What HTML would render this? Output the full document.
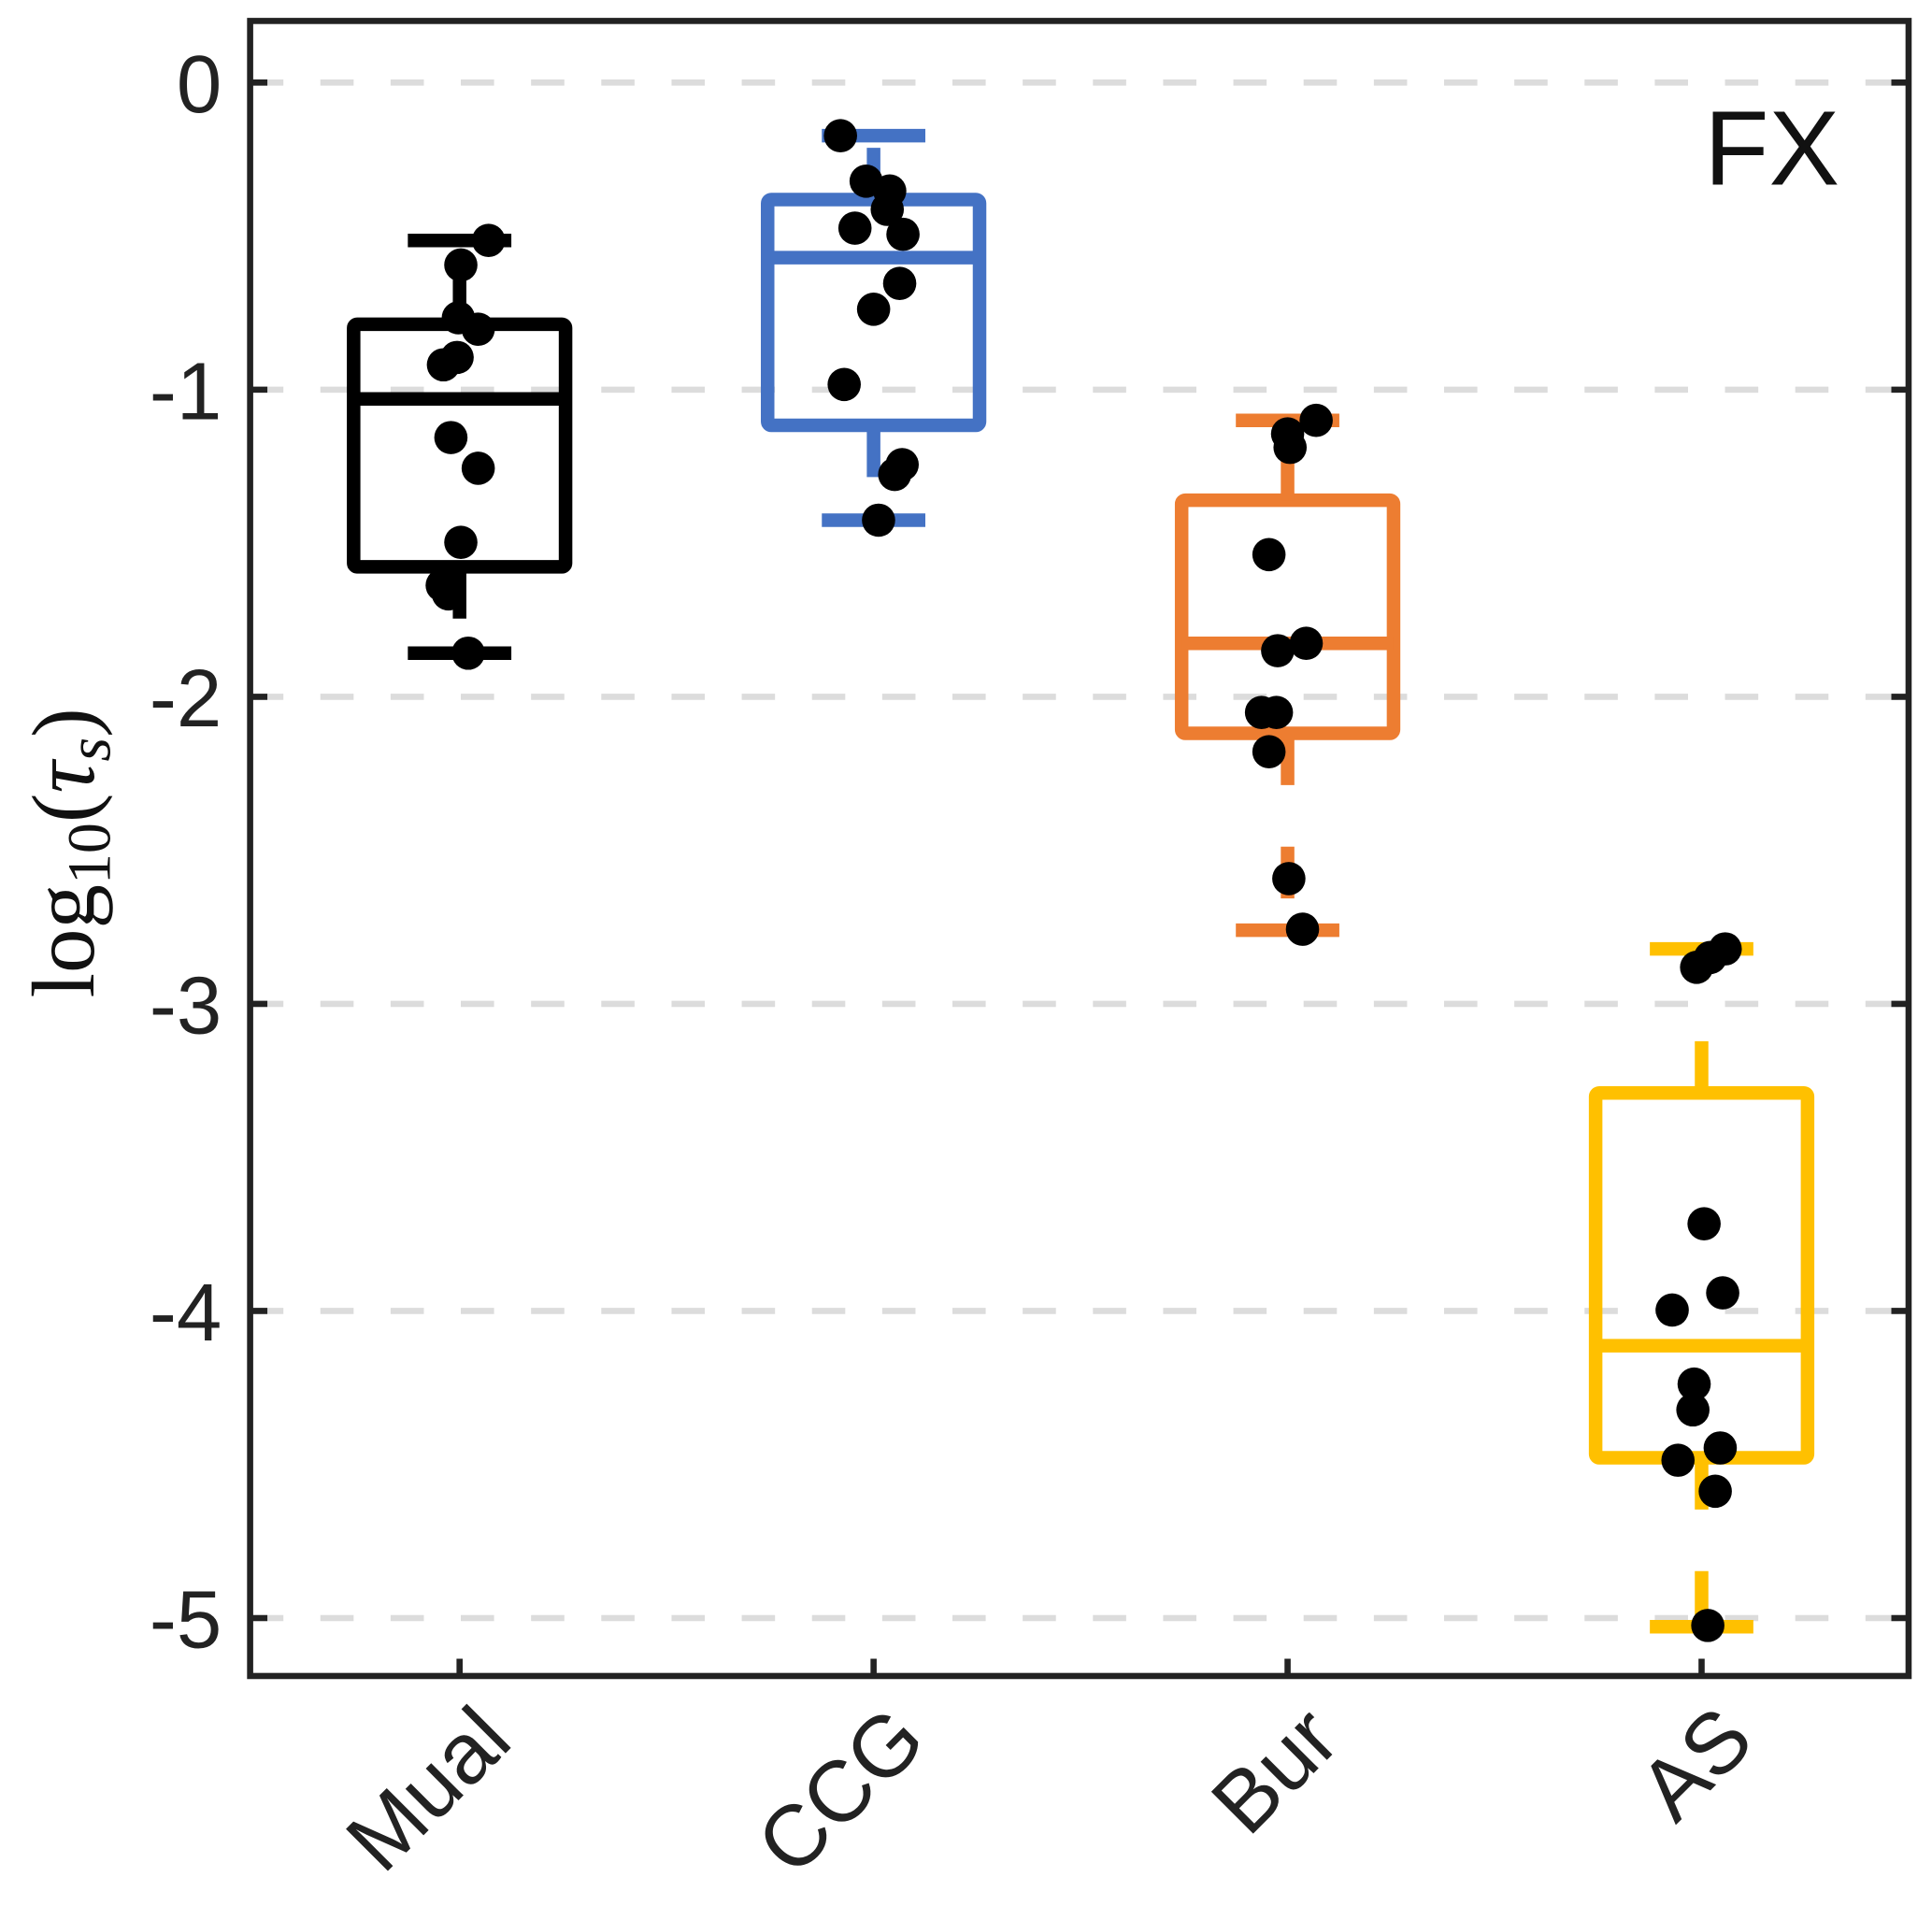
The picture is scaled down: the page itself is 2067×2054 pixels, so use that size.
<!DOCTYPE html>
<html><head><meta charset="utf-8"><style>
html,body{margin:0;padding:0;background:#fff;}
svg{display:block;}
</style></head><body>
<svg id="chart" width="2067" height="2054" viewBox="0 0 1568 1558" preserveAspectRatio="none" xmlns="http://www.w3.org/2000/svg" font-family="'Liberation Sans', sans-serif">
<g id="grid"></g>
<g id="boxes"></g>
<g id="dots"></g>
<rect x="203" y="17" width="1346" height="1343" fill="none" stroke="#222" stroke-width="5"/>
<g id="ticks"></g>
<text x="1438" y="150" font-size="86" text-anchor="middle" fill="#111">FX</text>
<text transform="translate(76,692) rotate(-90)" text-anchor="middle" font-family="'Liberation Serif', serif" font-size="72" fill="#111">log<tspan font-size="50" dy="13">10</tspan><tspan dy="-13">(</tspan><tspan font-style="italic">τ</tspan><tspan font-style="italic" font-size="50" dy="13">s</tspan><tspan dy="-13">)</tspan></text>
</svg>
<script>
const categories = ["Mual","CCG","Bur","AS"];
const colors = ["#000000","#4472C4","#ED7D31","#FFC000"];
const yTicks = [0,-1,-2,-3,-4,-5];
const q1 = [-1.577,-1.116,-2.119,-4.478];
const q3 = [-0.787,-0.381,-1.36,-3.29];
const medians = [-1.03,-0.57,-1.826,-4.113];
const whiskLo = [-1.858,-1.425,-2.76,-5.028];
const whiskHi = [-0.514,-0.173,-1.1,-2.821];
const ptsMual = [-0.514,-0.594,-0.766,-0.803,-0.895,-0.919,-1.156,-1.256,-1.497,-1.637,-1.665,-1.858];
const jitMual = [0.07,0.003,-0.003,0.045,-0.006,-0.039,-0.021,0.045,0.003,-0.042,-0.027,0.021];
const ptsCCG = [-0.173,-0.321,-0.353,-0.413,-0.474,-0.494,-0.654,-0.738,-0.983,-1.244,-1.276,-1.425];
const jitCCG = [-0.08,-0.018,0.039,0.033,-0.045,0.071,0.063,0,-0.071,0.069,0.051,0.012];
const ptsBur = [-1.1,-1.144,-1.188,-1.537,-1.826,-1.85,-2.051,-2.051,-2.179,-2.592,-2.757];
const jitBur = [0.069,0,0.006,-0.045,0.045,-0.024,-0.027,-0.063,-0.045,0.003,0.036];
const ptsAS = [-2.821,-2.849,-2.881,-3.716,-3.941,-3.997,-4.238,-4.322,-4.446,-4.486,-4.587,-5.024];
const jitAS = [0.057,0.021,-0.012,0.006,0.051,-0.071,-0.018,-0.021,0.045,-0.057,0.033,0.015];
const points = [ptsMual,ptsCCG,ptsBur,ptsAS];
const jitters = [jitMual,jitCCG,jitBur,jitAS];

const NS="http://www.w3.org/2000/svg";
const X0=203,X1=1549,Y0=17,Y1=1360;
const xs = i => 373 + i*336;
const ys = v => 67 - v*249.2;
const HW=86, CAP=42;
function mk(t,a,p){const e=document.createElementNS(NS,t);for(const k in a)e.setAttribute(k,a[k]);p.appendChild(e);return e;}
const grid=document.getElementById('grid'),boxes=document.getElementById('boxes'),dots=document.getElementById('dots'),ticks=document.getElementById('ticks');
yTicks.forEach(t=>{
  const y=ys(t);
  const g=mk('line',{x1:X0,x2:X1,y1:y,y2:y,stroke:'#dcdcdc','stroke-width':5,'stroke-dasharray':'27 30'},grid);
  
  
  mk('line',{x1:X0,x2:X0+14,y1:y,y2:y,stroke:'#222','stroke-width':5},ticks);
  mk('line',{x1:X1-14,x2:X1,y1:y,y2:y,stroke:'#222','stroke-width':5},ticks);
  const tx=mk('text',{x:180,y:y+24,'font-size':66,'text-anchor':'end',fill:'#222'},ticks);
  tx.textContent=String(t);
  
  
});
categories.forEach((c,i)=>{
  const x=xs(i);
  mk('line',{x1:x,x2:x,y1:Y1,y2:Y1-14,stroke:'#222','stroke-width':5},ticks);
  const tx=mk('text',{transform:`translate(${x+45},${Y1+55}) rotate(-45)`,'font-size':70,'text-anchor':'end',fill:'#222'},ticks);
  tx.textContent=c;
  
  
  const col=colors[i];
  const g=mk('g',{},boxes);
  
  
  mk('rect',{x:x-HW,y:ys(q3[i]),width:2*HW,height:ys(q1[i])-ys(q3[i]),fill:'none',stroke:col,'stroke-width':11,rx:3},g);
  mk('line',{x1:x-HW,x2:x+HW,y1:ys(medians[i]),y2:ys(medians[i]),stroke:col,'stroke-width':11},g);
  mk('line',{x1:x,x2:x,y1:ys(q1[i]),y2:ys(whiskLo[i]),stroke:col,'stroke-width':11,'stroke-dasharray':'42 50'},g);
  mk('line',{x1:x,x2:x,y1:ys(q3[i]),y2:ys(whiskHi[i]),stroke:col,'stroke-width':11,'stroke-dasharray':'42 50'},g);
  mk('line',{x1:x-CAP,x2:x+CAP,y1:ys(whiskLo[i]),y2:ys(whiskLo[i]),stroke:col,'stroke-width':11},g);
  mk('line',{x1:x-CAP,x2:x+CAP,y1:ys(whiskHi[i]),y2:ys(whiskHi[i]),stroke:col,'stroke-width':11},g);
  points[i].forEach((v,j)=>{
    const d=mk('circle',{cx:xs(i+jitters[i][j]),cy:ys(v),r:13.5,fill:'#000'},dots);
    
    
  });
});
</script>
</body></html>
